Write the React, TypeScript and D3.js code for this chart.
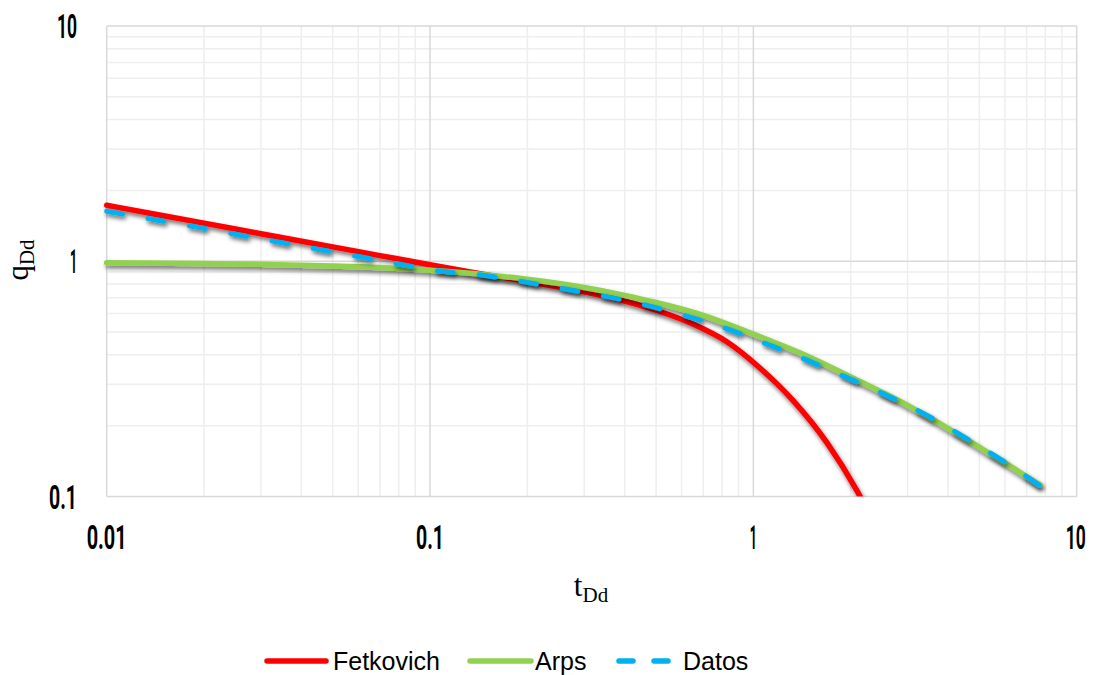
import React from "react";
import * as d3 from "d3";

// Tick labels
const xTicks = [0.01, 0.1, 1, 10];
const yTicks = [0.1, 1, 10];
const xTickLabels = ["0.01", "0.1", "1", "10"];
const yTickLabels = ["0.1", "1", "10"];

// Fetkovich curve (red)
const fetT = [0.01, 0.015, 0.02, 0.03, 0.05, 0.07, 0.1, 0.15, 0.2, 0.3, 0.4, 0.5, 0.65, 0.83, 1.05, 1.33, 1.69, 2.09, 2.3];
const fetQ = [1.73, 1.562, 1.452, 1.309, 1.151, 1.057, 0.966, 0.875, 0.82, 0.742, 0.677, 0.619, 0.541, 0.454, 0.351, 0.255, 0.169, 0.106, 0.083];

// Arps curve (green)
const arpsT = [0.01, 0.02, 0.03, 0.05, 0.07, 0.1, 0.15, 0.2, 0.3, 0.4, 0.5, 0.7, 1, 1.5, 2, 3, 4, 5, 6, 7.7];
const arpsQ = [0.985, 0.978, 0.97, 0.955, 0.94, 0.915, 0.875, 0.838, 0.773, 0.716, 0.668, 0.589, 0.49, 0.39, 0.322, 0.244, 0.195, 0.162, 0.139, 0.112];

// Datos (blue dashed)
const datT = [0.01, 0.015, 0.02, 0.03, 0.045, 0.06, 0.08, 0.1, 0.15, 0.2, 0.25, 0.35, 0.45, 0.6, 0.8, 1.1, 1.4, 1.9, 2.5, 3.6, 4.7, 6, 7.7];
const datQ = [1.63, 1.48, 1.38, 1.245, 1.125, 1.047, 0.973, 0.92, 0.867, 0.813, 0.771, 0.708, 0.658, 0.592, 0.525, 0.445, 0.39, 0.325, 0.275, 0.214, 0.172, 0.14, 0.111];

const series = [
  { name: "Fetkovich", t: fetT, q: fetQ, color: "#ff0000", dash: null as string | null },
  { name: "Arps", t: arpsT, q: arpsQ, color: "#92d050", dash: null as string | null },
  { name: "Datos", t: datT, q: datQ, color: "#00b0f0", dash: "16 26" },
];

const W = 1094;
const H = 675;
const L = 106.7, R = 1076.7, T = 26, B = 496.5;

export default function App() {
  const x = d3.scaleLog().domain([0.01, 10]).range([L, R]);
  const y = d3.scaleLog().domain([0.1, 10]).range([B, T]);

  const minorX: number[] = [];
  for (let d = 0.01; d < 10; d *= 10) for (let k = 2; k <= 9; k++) minorX.push(+(d * k).toPrecision(3));
  const minorY: number[] = [];
  for (let d = 0.1; d < 10; d *= 10) for (let k = 2; k <= 9; k++) minorY.push(+(d * k).toPrecision(3));

  const line = d3
    .line<[number, number]>()
    .x((d) => x(d[0]))
    .y((d) => y(d[1]))
    .curve(d3.curveMonotoneX);

  const tickFont = "Roboto, 'DejaVu Sans', sans-serif";
  const widthFor: Record<string, number> = { "0.01": 40, "0.1": 28, "10": 20, "1": 7 };

  const legendItems = [
    { name: "Fetkovich", color: "#ff0000", x1: 267, x2: 326, tx: 333, dash: null as string | null },
    { name: "Arps", color: "#92d050", x1: 470, x2: 531, tx: 535, dash: null as string | null },
    { name: "Datos", color: "#00b0f0", x1: 619, x2: 672, tx: 683, dash: "14 21" },
  ];

  return (
    <svg
      width={W}
      height={H}
      style={{ position: "absolute", left: 0, top: 0, background: "#ffffff" }}
    >
      <defs>
        <clipPath id="plotClip">
          <rect x={L - 4} y={T - 4} width={R - L + 8} height={B - T + 4} />
        </clipPath>
        <filter id="shadow" x="-5%" y="-5%" width="110%" height="120%">
          <feDropShadow dx="1.5" dy="3" stdDeviation="2" floodColor="#000" floodOpacity="0.55" />
        </filter>
      </defs>
      <rect x={0} y={0} width={W} height={H} fill="#fff" />

      {/* minor grid */}
      <g stroke="#eeeeee" strokeWidth={1.5}>
        {minorX.map((v) => (
          <line key={"mx" + v} x1={x(v)} x2={x(v)} y1={T} y2={B} />
        ))}
        {minorY.map((v) => (
          <line key={"my" + v} x1={L} x2={R} y1={y(v)} y2={y(v)} />
        ))}
      </g>
      {/* major grid */}
      <g stroke="#d9d9d9" strokeWidth={1.5}>
        {xTicks.map((v) => (
          <line key={"Mx" + v} x1={x(v)} x2={x(v)} y1={T} y2={B} />
        ))}
        {yTicks.map((v) => (
          <line key={"My" + v} x1={L} x2={R} y1={y(v)} y2={y(v)} />
        ))}
      </g>

      {/* series */}
      <g clipPath="url(#plotClip)">
        {series.map((s) => (
          <path
            key={s.name}
            d={line(s.t.map((t, i) => [t, s.q[i]] as [number, number])) || ""}
            fill="none"
            stroke={s.color}
            strokeWidth={s.dash ? 5 : 5.5}
            strokeDasharray={s.dash || undefined}
            strokeLinecap="round"
            strokeLinejoin="round"
            filter="url(#shadow)"
          />
        ))}
      </g>

      {/* y tick labels */}
      {yTicks.map((v, i) => {
        const lab = yTickLabels[i];
        const tl = widthFor[lab];
        return (
          <text
            key={"yt" + v}
            x={77}
            y={y(v) + 12}
            textAnchor="end"
            fontFamily={tickFont}
            fontWeight="bold"
            fontSize={33}
            fill="#000"
            textLength={tl}
            lengthAdjust="spacingAndGlyphs"
          >
            {lab}
          </text>
        );
      })}
      {/* x tick labels */}
      {xTicks.map((v, i) => {
        const lab = xTickLabels[i];
        const tl = widthFor[lab];
        const last = i === xTicks.length - 1;
        return (
          <text
            key={"xt" + v}
            x={last ? x(v) + 9 : x(v)}
            y={549}
            textAnchor={last ? "end" : "middle"}
            fontFamily={tickFont}
            fontWeight="bold"
            fontSize={33}
            fill="#000"
            textLength={tl}
            lengthAdjust="spacingAndGlyphs"
          >
            {lab}
          </text>
        );
      })}

      {/* axis titles */}
      <text
        x={591}
        y={596}
        textAnchor="middle"
        fontFamily="'Liberation Serif', 'DejaVu Serif', serif"
        fontSize={31}
        fill="#000"
      >
        t
        <tspan fontSize={21} dy={6}>
          Dd
        </tspan>
      </text>
      <text
        transform="translate(28,260) rotate(-90)"
        textAnchor="middle"
        fontFamily="'Liberation Serif', 'DejaVu Serif', serif"
        fontSize={31}
        fill="#000"
      >
        q
        <tspan fontSize={21} dy={6}>
          Dd
        </tspan>
      </text>

      {/* legend */}
      {legendItems.map((it) => (
        <g key={it.name}>
          <line
            x1={it.x1}
            x2={it.x2}
            y1={661}
            y2={661}
            stroke={it.color}
            strokeWidth={5.5}
            strokeLinecap="round"
            strokeDasharray={it.dash || undefined}
          />
          <text
            x={it.tx}
            y={670}
            fontFamily="'Liberation Sans', Arial, sans-serif"
            fontSize={25}
            fill="#000"
          >
            {it.name}
          </text>
        </g>
      ))}
    </svg>
  );
}
